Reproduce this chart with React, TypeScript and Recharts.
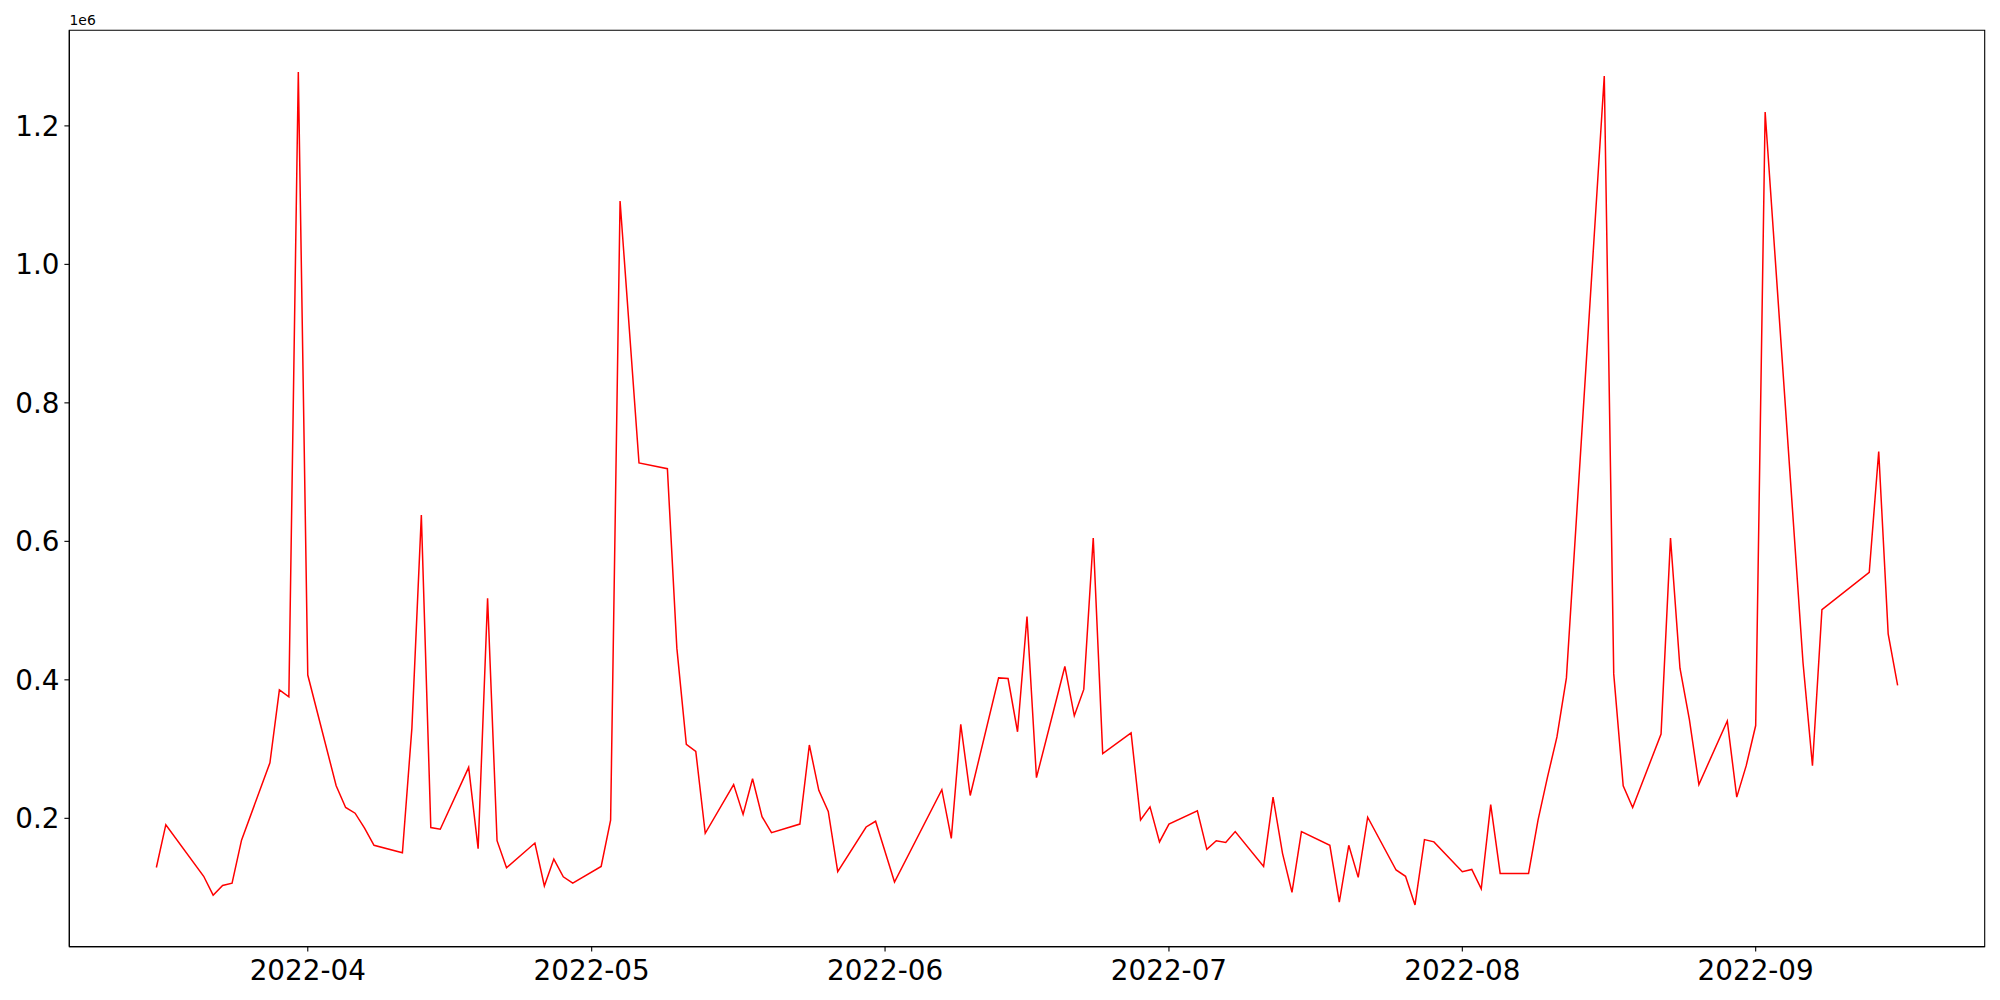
import React from "react";
import { LineChart, Line, XAxis, YAxis, ReferenceArea } from "recharts";

// business days (gaps = missing days)
const DATES = [
  "2022-03-16", "2022-03-17", "2022-03-21", "2022-03-22", "2022-03-23", "2022-03-24", "2022-03-25",
  "2022-03-28", "2022-03-29", "2022-03-30", "2022-03-31", "2022-04-01",
  "2022-04-04", "2022-04-05", "2022-04-06", "2022-04-07", "2022-04-08",
  "2022-04-11", "2022-04-12", "2022-04-13", "2022-04-14", "2022-04-15",
  "2022-04-18", "2022-04-19", "2022-04-20", "2022-04-21", "2022-04-22",
  "2022-04-25", "2022-04-26", "2022-04-27", "2022-04-28", "2022-04-29",
  "2022-05-02", "2022-05-03", "2022-05-04", "2022-05-06",
  "2022-05-09", "2022-05-10", "2022-05-11", "2022-05-12", "2022-05-13",
  "2022-05-16", "2022-05-17", "2022-05-18", "2022-05-19", "2022-05-20",
  "2022-05-23", "2022-05-24", "2022-05-25", "2022-05-26", "2022-05-27",
  "2022-05-30", "2022-05-31", "2022-06-02",
  "2022-06-07", "2022-06-08", "2022-06-09", "2022-06-10",
  "2022-06-13", "2022-06-14", "2022-06-15", "2022-06-16", "2022-06-17",
  "2022-06-20", "2022-06-21", "2022-06-22", "2022-06-23", "2022-06-24",
  "2022-06-27", "2022-06-28", "2022-06-29", "2022-06-30", "2022-07-01",
  "2022-07-04", "2022-07-05", "2022-07-06", "2022-07-07", "2022-07-08",
  "2022-07-11", "2022-07-12", "2022-07-13", "2022-07-14", "2022-07-15",
  "2022-07-18", "2022-07-19", "2022-07-20", "2022-07-21", "2022-07-22",
  "2022-07-25", "2022-07-26", "2022-07-27", "2022-07-28", "2022-07-29",
  "2022-08-01", "2022-08-02", "2022-08-03", "2022-08-04", "2022-08-05",
  "2022-08-08", "2022-08-09", "2022-08-10", "2022-08-11", "2022-08-12",
  "2022-08-16", "2022-08-17", "2022-08-18", "2022-08-19",
  "2022-08-22", "2022-08-23", "2022-08-24", "2022-08-25", "2022-08-26",
  "2022-08-29", "2022-08-30", "2022-08-31", "2022-09-01", "2022-09-02",
  "2022-09-06", "2022-09-07", "2022-09-08",
  "2022-09-13", "2022-09-14", "2022-09-15", "2022-09-16",
];

const VALUES = [
  129000, 190800, 116300, 89000, 103100, 106400, 168500,
  280200, 385400, 375500, 1277900, 406900,
  247100, 215700, 207400, 185900, 161000,
  150300, 329900, 637900, 186700, 184200,
  273600, 156100, 517900, 167700, 128700,
  164300, 102300, 141100, 115500, 106400,
  130400, 197500, 1091600, 713200,
  705000, 445800, 306700, 296800, 178400,
  248800, 205700, 257100, 202400, 179200,
  191700, 305900, 240500, 209900, 122900,
  187500, 195800, 108000,
  241300, 171000, 335700, 233000,
  402800, 401900, 325000, 491400, 258700,
  419300, 348100, 386200, 604800, 293500,
  323300, 197500, 216500, 166000, 191700,
  210700, 155200, 167700, 165200, 180900,
  130400, 230600, 149400, 93200, 180900,
  161000, 79000, 161000, 114700, 201600,
  125400, 116300, 74900, 169300, 166000,
  122900, 126200, 98100, 219800, 120500,
  120500, 197500, 259500, 317500, 402800,
  1272100, 408600, 247100, 215700,
  321600, 604800, 416800, 342300, 248800,
  340700, 230600, 276100, 334000, 1219900,
  425100, 276100, 501300,
  555100, 729800, 466500, 392000,
];

const X_TICKS = ["2022-04-01", "2022-05-01", "2022-06-01", "2022-07-01", "2022-08-01", "2022-09-01"];
const Y_TICKS = [200000, 400000, 600000, 800000, 1000000, 1200000];

const data = DATES.map((d, i) => ({ t: new Date(d).getTime(), v: VALUES[i] }));

// matplotlib-style 5% autoscale margins
const tMin = data[0].t;
const tMax = data[data.length - 1].t;
const tPad = (tMax - tMin) * 0.05;
const xDomain: [number, number] = [tMin - tPad, tMax + tPad];
const vMin = Math.min(...VALUES);
const vMax = Math.max(...VALUES);
const vPad = (vMax - vMin) * 0.05;
const yDomain: [number, number] = [vMin - vPad, vMax + vPad];

const FONT = "'DejaVu Sans', sans-serif";
const tickStyle = { fill: "#000", fontSize: 27.8, fontFamily: FONT };

const fmtMonth = (t: number) => {
  const d = new Date(t);
  return `${d.getUTCFullYear()}-${String(d.getUTCMonth() + 1).padStart(2, "0")}`;
};

export default function App() {
  return (
    <div style={{ position: "absolute", left: 0, top: 0, width: 2000, height: 1000, background: "#fff" }}>
      <LineChart
        width={2000}
        height={1000}
        data={data}
        margin={{ top: 30.3, right: 15.3, bottom: 0, left: 0 }}
      >
        <XAxis
          dataKey="t"
          type="number"
          domain={xDomain}
          allowDataOverflow
          ticks={X_TICKS.map((d) => new Date(d).getTime())}
          tickFormatter={fmtMonth}
          height={53.4}
          tick={tickStyle}
          tickSize={4.9}
          tickMargin={8.5}
          axisLine={{ stroke: "#000", strokeWidth: 1.1 }}
          tickLine={{ stroke: "#000", strokeWidth: 1.1 }}
        />
        <YAxis
          type="number"
          domain={yDomain}
          allowDataOverflow
          ticks={Y_TICKS}
          tickFormatter={(v: number) => (v / 1e6).toFixed(1)}
          width={69.3}
          tick={tickStyle}
          tickSize={4.9}
          tickMargin={4.9}
          axisLine={{ stroke: "#000", strokeWidth: 1.1 }}
          tickLine={{ stroke: "#000", strokeWidth: 1.1 }}
        />
        <ReferenceArea
          x1={xDomain[0]}
          x2={xDomain[1]}
          y1={yDomain[0]}
          y2={yDomain[1]}
          fill="none"
          fillOpacity={0}
          stroke="#000"
          strokeWidth={1.1}
          ifOverflow="visible"
        />
        <Line
          type="linear"
          dataKey="v"
          stroke="#ff0000"
          strokeWidth={1.5}
          dot={false}
          activeDot={false}
          isAnimationActive={false}
        />
      </LineChart>
      <div
        style={{
          position: "absolute",
          left: 69.5,
          top: 14.2,
          fontSize: 13.9,
          lineHeight: 1,
          fontFamily: FONT,
          color: "#000",
        }}
      >
        1e6
      </div>
    </div>
  );
}
